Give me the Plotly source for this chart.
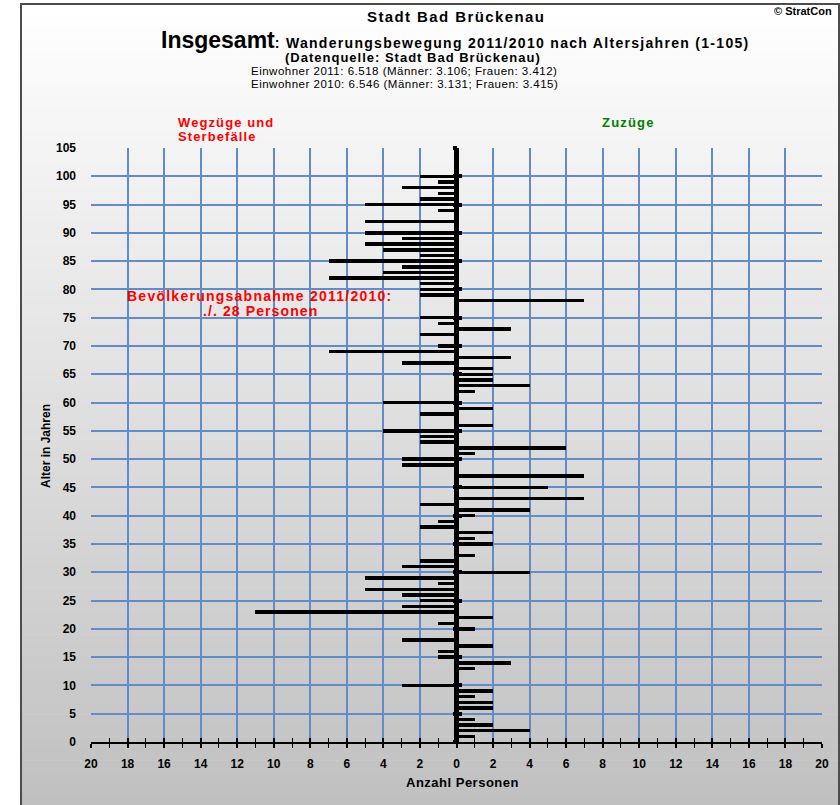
import plotly.graph_objects as go

# ---------------- data ----------------
ages = list(range(1, 106))
# net movement per age (negative = Wegzüge/Sterbefälle, positive = Zuzüge), ages 1..105
values = [
    1, 4, 2, 1, 0, 2, 2, 1, 2, -3,          # 1-10
    0, 0, 1, 3, -1, -1, 2, -3, 0, 1,        # 11-20
    -1, 2, -11, -3, -2, -3, -5, -1, -5, 4,  # 21-30
    -3, -2, 1, 0, 2, 1, 2, -2, -1, 1,       # 31-40
    4, -2, 7, 0, 5, 0, 7, 0, -3, -3,        # 41-50
    1, 6, -2, -2, -4, 2, 0, -2, 2, -4,      # 51-60
    0, 1, 4, 2, 2, 2, -3, 3, -7, -1,        # 61-70
    0, -2, 3, -1, -2, 0, 0, 7, -2, -2,      # 71-80
    -2, -7, -4, -3, -7, -2, -4, -5, -3, -5, # 81-90
    0, -5, 0, -1, -5, -2, -1, -3, -1, -2,   # 91-100
    0, 0, 0, 0, 0,                          # 101-105
]
x_ticks = list(range(-20, 21, 2))
x_tick_labels = [str(abs(v)) for v in x_ticks]
y_ticks = list(range(0, 106, 5))

title1 = "Stadt Bad Brückenau"
title2_big = "Insgesamt"
title2_rest = ": Wanderungsbewegung 2011/2010 nach Altersjahren (1-105)"
title3 = "(Datenquelle: Stadt Bad Brückenau)"
title4 = "Einwohner 2011: 6.518 (Männer: 3.106; Frauen: 3.412)"
title5 = "Einwohner 2010: 6.546 (Männer: 3.131; Frauen: 3.415)"

# ---------------- layout geometry ----------------
W, H = 840, 805
PL, PR, PT, PB = 91, 822, 148, 742  # plot area in pixels


def px(x):
    return (x - PL) / (PR - PL)


def py(y):
    return (PB - y) / (PB - PT)


ARIAL = "Liberation Sans, Arial, sans-serif"
GRID = "rgb(98,140,200)"

fig = go.Figure()
fig.add_trace(go.Bar(
    y=ages, x=values, orientation="h", width=0.6,
    marker=dict(color="black", line=dict(width=0)),
    hoverinfo="x+y", showlegend=False,
))
# empty traces so overlay axes are drawn
fig.add_trace(go.Scatter(x=[], y=[], xaxis="x2", yaxis="y", showlegend=False))
fig.add_trace(go.Scatter(x=[], y=[], xaxis="x", yaxis="y2", showlegend=False))
fig.add_trace(go.Scatter(x=[], y=[], xaxis="x", yaxis="y3", showlegend=False))

shapes = []
# gradient background of the chart frame
FX0, FX1, FY0, FY1 = 21, 839, 4, 806
N = 70
for i in range(N):
    y0 = FY0 + (FY1 - FY0) * i / N
    y1 = FY0 + (FY1 - FY0) * (i + 1) / N
    t = (i + 0.5) / N
    c = round(255 - 63 * t)
    shapes.append(dict(type="rect", xref="paper", yref="paper",
                       x0=px(FX0), x1=px(FX1), y0=py(y0), y1=py(y1 + 0.5),
                       fillcolor=f"rgb({c},{c},{c})", line=dict(width=0),
                       layer="below"))
shapes.append(dict(type="rect", xref="paper", yref="paper",
                   x0=px(FX0), x1=px(FX1), y0=py(FY0), y1=py(FY1),
                   line=dict(color="#4d4d4d", width=2), fillcolor="rgba(0,0,0,0)",
                   layer="below"))

ann = []


def add_text(text, x, y, size, color="black", xanchor="center",
             bold=True, textangle=0, spacing=0):
    if spacing:
        text = f"<span style='letter-spacing:{spacing}px'>{text}</span>"
    ann.append(dict(text=text, xref="paper", yref="paper", x=px(x), y=py(y),
                    xanchor=xanchor, yanchor="middle", showarrow=False,
                    textangle=textangle,
                    font=dict(family=ARIAL, size=size, color=color,
                              weight="bold" if bold else "normal")))


add_text(title1, 456, 17, 15, spacing=1.4)
add_text("© StratCon", 834, 11, 11, xanchor="right")
ann.append(dict(
    text=(f"<span style='font-size:23px'>{title2_big}</span>"
          f"<span style='letter-spacing:1.3px'>{title2_rest}</span>"),
    xref="paper", yref="paper", x=px(455), y=py(40),
    xanchor="center", yanchor="middle", showarrow=False,
    font=dict(family=ARIAL, size=14, color="black", weight="bold")))
add_text(title3, 413, 57, 13, spacing=1.0)
add_text(title4, 404, 71, 11.5, bold=False, spacing=0.5)
add_text(title5, 404, 84, 11.5, bold=False, spacing=0.5)
add_text("Wegzüge und", 176, 122, 13, color="#ff0000", xanchor="left", spacing=1.1)
add_text("Sterbefälle", 176, 137, 13, color="#ff0000", xanchor="left", spacing=1.1)
add_text("Zuzüge", 628, 122, 13, color="#008000", spacing=1.2)
add_text("Bevölkerungsabnahme 2011/2010:", 260, 296, 14, color="#ff0000", spacing=1.25)
add_text("./. 28 Personen", 260, 311, 14, color="#ff0000", spacing=1.1)
add_text("Alter in Jahren", 46, 446, 12, textangle=-90)
add_text("Anzahl Personen", 462, 782, 13, spacing=0.5)

fig.update_layout(
    width=W, height=H,
    margin=dict(l=PL, r=W - PR, t=PT, b=H - PB, autoexpand=False),
    paper_bgcolor="white",
    plot_bgcolor="rgba(0,0,0,0)",
    bargap=0,
    showlegend=False,
    shapes=shapes,
    annotations=ann,
    xaxis=dict(
        range=[-20, 20], tickvals=x_ticks, ticktext=x_tick_labels,
        showgrid=True, gridcolor=GRID, gridwidth=1.5,
        zeroline=True, zerolinecolor="black", zerolinewidth=5,
        showline=True, linecolor="black", linewidth=1.5,
        ticks="outside", ticklen=4, tickwidth=1.5, tickcolor="black",
        minor=dict(dtick=1, tick0=0, ticks="outside", ticklen=4, tickwidth=1.2,
                   tickcolor="black", showgrid=False),
        tickfont=dict(family=ARIAL, size=12, color="black", weight="bold"),
        ticklabelstandoff=6, fixedrange=True, automargin=False,
    ),
    xaxis2=dict(
        overlaying="x", anchor="y", side="bottom", range=[-20, 20],
        tickvals=x_ticks, showticklabels=False, showgrid=False, zeroline=False,
        showline=False, ticks="inside", ticklen=4, tickwidth=1.5, tickcolor="black",
        minor=dict(dtick=1, tick0=0, ticks="inside", ticklen=4, tickwidth=1.2,
                   tickcolor="black", showgrid=False),
        automargin=False,
    ),
    yaxis=dict(
        range=[0, 105], tickvals=y_ticks,
        showgrid=True, gridcolor=GRID, gridwidth=1.5,
        zeroline=False, showline=False, ticks="",
        tickfont=dict(family=ARIAL, size=12, color="black", weight="bold"),
        ticklabelstandoff=14, fixedrange=True, automargin=False,
    ),
    yaxis2=dict(
        overlaying="y", anchor="free", position=0.5, range=[0, 105],
        tickvals=y_ticks, showticklabels=False, showgrid=False, zeroline=False,
        showline=False, ticks="outside", ticklen=4, tickwidth=3.5, tickcolor="black",
        automargin=False,
    ),
    yaxis3=dict(
        overlaying="y", anchor="free", position=0.5, range=[0, 105],
        tickvals=y_ticks, showticklabels=False, showgrid=False, zeroline=False,
        showline=False, ticks="inside", ticklen=4, tickwidth=3.5, tickcolor="black",
        automargin=False,
    ),
)

fig.write_html("out.html", config={"displayModeBar": False},
               post_script="document.body.style.margin='0';")
